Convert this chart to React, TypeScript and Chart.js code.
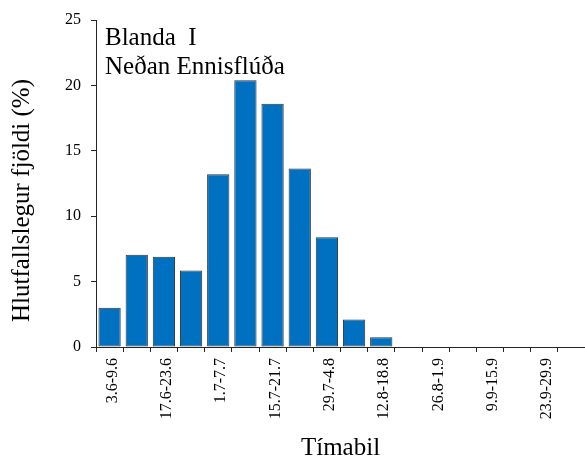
import React, { useEffect, useRef } from 'react';
import { Chart, registerables } from 'chart.js';

Chart.register(...registerables);

const categories = [
  '3.6-9.6', '10.6-16.6', '17.6-23.6', '24.6-30.6', '1.7-7.7', '8.7-14.7',
  '15.7-21.7', '22.7-28.7', '29.7-4.8', '5.8-11.8', '12.8-18.8', '19.8-25.8',
  '26.8-1.9', '2.9-8.9', '9.9-15.9', '16.9-22.9', '23.9-29.9', '30.9-6.10',
];
const values = [3.0, 7.05, 6.9, 5.85, 13.2, 20.4, 18.6, 13.65, 8.4, 2.1, 0.75, 0, 0, 0, 0, 0, 0, 0];
const yMin = 0;
const yMax = 25;
const yStep = 5;
const labelEvery = 2;
const annotationLines = ['Blanda  I', 'Neðan Ennisflúða'];
const yTitle = 'Hlutfallslegur fjöldi (%)';
const xTitle = 'Tímabil';

const FONT = "'Liberation Serif', 'Times New Roman', serif";
const AXIS = '#262626';

const textPlugin = {
  id: 'extraTexts',
  afterDraw(chart: any) {
    const { ctx, chartArea } = chart;
    ctx.save();
    ctx.fillStyle = '#000';
    ctx.font = `25px ${FONT}`;
    ctx.textAlign = 'left';
    ctx.textBaseline = 'alphabetic';
    annotationLines.forEach((t, i) => {
      ctx.fillText(t, chartArea.left + 9, chartArea.top + 25 + i * 29);
    });
    ctx.translate(22.5, (chartArea.top + chartArea.bottom) / 2 + 17);
    ctx.rotate(-Math.PI / 2);
    ctx.font = `25px ${FONT}`;
    ctx.textAlign = 'center';
    ctx.textBaseline = 'middle';
    ctx.fillText(yTitle, 0, 0);
    ctx.restore();
  },
};

export default function App() {
  const ref = useRef<HTMLCanvasElement | null>(null);

  useEffect(() => {
    if (!ref.current) return;
    const chart = new Chart(ref.current, {
      type: 'bar',
      data: {
        labels: categories,
        datasets: [
          {
            data: values,
            backgroundColor: '#0070C0',
            borderColor: '#333333',
            borderWidth: 1,
            borderSkipped: false,
            categoryPercentage: 1,
            barPercentage: 0.82,
          },
        ],
      },
      options: {
        responsive: false,
        animation: false,
        events: [],
        layout: { padding: { top: 20, right: 0, bottom: 0, left: 0 } },
        plugins: {
          legend: { display: false },
          tooltip: { enabled: false },
          title: { display: false },
        },
        scales: {
          x: {
            offset: true,
            grid: {
              offset: true,
              drawOnChartArea: false,
              drawTicks: true,
              tickLength: 5,
              color: AXIS,
            },
            border: { color: AXIS, width: 1 },
            ticks: {
              autoSkip: false,
              minRotation: 90,
              maxRotation: 90,
              padding: 6,
              labelOffset: 3,
              color: '#000',
              font: { family: FONT, size: 16 },
              callback: (_v: any, i: number) => (i % labelEvery === 0 ? categories[i] : ''),
            },
            title: {
              display: true,
              text: xTitle,
              color: '#000',
              font: { family: FONT, size: 25 },
              padding: { top: 0, bottom: 0 },
            },
            afterFit: (scale: any) => {
              scale.height = 116;
              scale.paddingLeft = 0;
              scale.paddingRight = 0;
            },
          },
          y: {
            min: yMin,
            max: yMax,
            grid: {
              drawOnChartArea: false,
              drawTicks: true,
              tickLength: 5,
              color: AXIS,
            },
            border: { color: AXIS, width: 1 },
            ticks: {
              stepSize: yStep,
              padding: 10,
              color: '#000',
              font: { family: FONT, size: 16 },
            },
            title: { display: false },
            afterFit: (scale: any) => {
              scale.width = 96;
              scale.paddingTop = 0;
              scale.paddingBottom = 0;
            },
          },
        },
      },
      plugins: [textPlugin],
    });
    return () => chart.destroy();
  }, []);

  return (
    <div style={{ position: 'absolute', left: 0, top: 0, width: 585, height: 463, background: '#fff' }}>
      <canvas ref={ref} width={585} height={463} style={{ display: 'block' }} />
    </div>
  );
}
